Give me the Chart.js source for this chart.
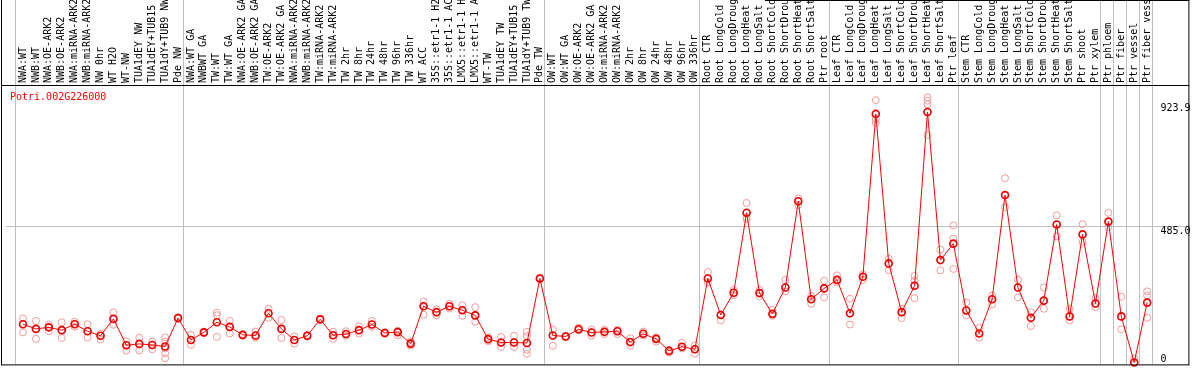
<!DOCTYPE html>
<html>
<head>
<meta charset="utf-8">
<script src="https://cdn.jsdelivr.net/npm/chart.js@4/dist/chart.umd.min.js"></script>
<style>
  html, body { margin: 0; padding: 0; background: #fff; }
  canvas { display: block; }
</style>
</head>
<body>
<canvas id="expr" width="1194" height="370"></canvas>
<script>
const geneName = "Potri.002G226000";

const labels = [
  "NWA:WT", "NWB:WT", "NWA:OE-ARK2", "NWB:OE-ARK2", "NWA:miRNA-ARK2", "NWB:miRNA-ARK2",
  "NW 0hr", "WT H2O", "WT-NW", "TUA1dEY NW", "TUA1dEY+TUB15", "TUA1dY+TUB9 NW", "Pde NW",
  "NWA:WT GA", "NWBWT GA", "TW:WT", "TW:WT GA", "NWA:OE-ARK2 GA", "NWB:OE-ARK2 GA",
  "TW:OE-ARK2", "TW:OE-ARK2 GA", "NWA:miRNA-ARK2", "NWB:miRNA-ARK2", "TW:miRNA-ARK2",
  "TW:miRNA-ARK2", "TW 2hr", "TW 8hr", "TW 24hr", "TW 48hr", "TW 96hr", "TW 336hr",
  "WT ACC", "35S::etr1-1 H2", "35S::etr1-1 AC", "LMX5::etr1-1 H", "LMX5::etr1-1 A",
  "WT-TW", "TUA1dEY TW", "TUA1dEY+TUB15", "TUA1dY+TUB9 TW", "Pde TW",
  "OW:WT", "OW:WT GA", "OW:OE-ARK2", "OW:OE-ARK2 GA", "OW:miRNA-ARK2", "OW:miRNA-ARK2",
  "OW 2hr", "OW 8hr", "OW 24hr", "OW 48hr", "OW 96hr", "OW 336hr",
  "Root CTR", "Root LongCold", "Root LongDroug", "Root LongHeat", "Root LongSalt",
  "Root ShortCold", "Root ShortDrou", "Root ShortHeat", "Root ShortSalt", "Ptr root",
  "Leaf CTR", "Leaf LongCold", "Leaf LongDroug", "Leaf LongHeat", "Leaf LongSalt",
  "Leaf ShortCold", "Leaf ShortDrou", "Leaf ShortHeat", "Leaf ShortSalt", "Ptr leaf",
  "Stem CTR", "Stem LongCold", "Stem LongDroug", "Stem LongHeat", "Stem LongSalt",
  "Stem ShortCold", "Stem ShortDrou", "Stem ShortHeat", "Stem ShortSalt", "Ptr shoot",
  "Ptr xylem", "Ptr phloem", "Ptr fiber", "Ptr vessel", "Ptr fiber vess"
];

// mean expression per sample
const means = [
  136, 119.5, 125, 115, 136, 111, 95, 155, 61, 66, 62, 57, 158,
  80, 107, 143, 126.5, 98, 96, 175, 119.5, 80, 95, 153.5, 97, 101, 115, 135, 105, 108, 67,
  200, 179, 200, 186, 167.5, 83, 71, 71, 69, 299,
  96, 92.5, 118, 106.5, 109, 111, 72.5, 102, 84, 41, 56, 47,
  299, 169, 248, 533, 247, 173, 267, 574, 225, 263.6,
  294, 175, 305, 885, 352.6, 179, 273, 892, 364.5, 423,
  185, 103, 225, 596, 267, 159, 220, 491, 164, 456, 210,
  501.5, 164, 0, 213
];

// individual replicates per sample
const replicates = [
  [157, 136, 107], [148, 120, 84], [135, 126, 111], [143, 115, 87], [145, 136, 127],
  [136, 111, 89], [103, 95, 82], [178, 155, 134], [75, 61, 42], [88, 66, 43],
  [74, 62, 47], [89, 74, 50, 33, 15], [161, 158, 155],
  [98, 80, 63], [110, 107, 104], [177, 168, 91], [148, 127, 103], [101, 98, 95],
  [110, 96, 89], [191, 175, 159], [151, 120, 87], [93, 80, 67], [98, 95, 92],
  [156, 154, 151], [109, 97, 84], [111, 101, 95], [129, 115, 103], [148, 135, 127],
  [108, 105, 102], [113, 108, 97], [74, 67, 60], [217, 200, 170], [189, 179, 168],
  [209, 200, 192], [204, 186, 166], [197, 168, 145], [90, 83, 76], [91, 71, 55],
  [95, 71, 55], [109, 94, 69, 45, 31], [302, 299, 296],
  [117, 96, 59], [95, 93, 90], [124, 118, 114], [117, 107, 95], [117, 109, 101],
  [116, 111, 101], [86, 73, 59], [110, 102, 96], [89, 84, 74], [45, 41, 35],
  [70, 56, 50], [61, 47, 31],
  [322, 299, 285], [171, 169, 150], [258, 248, 240], [568, 533, 517, 510], [258, 247, 236],
  [187, 173, 166], [294, 267, 253], [584, 574, 560], [236, 225, 209], [291, 264, 232],
  [310, 294, 285], [227, 175, 135], [314, 305, 294], [934, 885, 867, 853], [369, 353, 328],
  [191, 179, 158], [308, 291, 273, 229], [944, 932, 920, 892, 810], [402, 365, 328], [488, 441, 423, 333],
  [214, 185, 168], [123, 103, 88], [238, 225, 207], [656, 596, 552], [294, 267, 232],
  [179, 159, 130], [267, 220, 191], [524, 491, 449], [191, 164, 150], [492, 456, 429],
  [230, 210, 197], [533, 502, 482], [234, 164, 118], [15, 0, 0], [253, 238, 213, 159]
];

const yTicks = [0, 485.0, 923.9];
// first sample of each block (last entry closes the final block)
const groupStarts = [0, 13, 41, 53, 63, 73, 84, 85, 86, 87, 88];

const FONT = "DejaVu Sans Mono";
const STEP = 13;

const repPoints = [];
replicates.forEach((reps, i) => reps.forEach(v => repPoints.push({ x: i, y: v })));
const meanPoints = means.map((v, i) => ({ x: i, y: v }));

const framePlugin = {
  id: "frame",
  beforeDatasetsDraw(chart) {
    const { ctx, chartArea, scales: { x } } = chart;
    ctx.save();
    ctx.strokeStyle = "#c0c0c0";
    ctx.lineWidth = 1;
    groupStarts.forEach(g => {
      const px = Math.round(x.getPixelForValue(g - 8.5 / STEP)) + 0.5;
      ctx.beginPath();
      ctx.moveTo(px, 0);
      ctx.lineTo(px, chartArea.bottom);
      ctx.stroke();
    });
    ctx.restore();
  },
  afterDraw(chart) {
    const { ctx, chartArea, scales: { y } } = chart;
    ctx.save();
    ctx.strokeStyle = "#000";
    ctx.lineWidth = 1;
    ctx.beginPath();
    ctx.moveTo(1.5, 0); ctx.lineTo(1.5, chartArea.bottom + 0.5);
    ctx.moveTo(chartArea.right + 0.5, 0); ctx.lineTo(chartArea.right + 0.5, chartArea.bottom + 0.5);
    ctx.moveTo(1, chartArea.top + 0.5); ctx.lineTo(chartArea.right + 1, chartArea.top + 0.5);
    ctx.moveTo(1, chartArea.bottom + 0.5); ctx.lineTo(chartArea.right + 1, chartArea.bottom + 0.5);
    ctx.moveTo(765, 0.5); ctx.lineTo(chartArea.right + 1, 0.5);
    ctx.stroke();

    // value labels on the right, inside the plot
    ctx.font = "10px '" + FONT + "'";
    ctx.fillStyle = "#000";
    ctx.textAlign = "left";
    ctx.textBaseline = "alphabetic";
    yTicks.forEach(v => {
      const py = y.getPixelForValue(v);
      const base = v === 0 ? py : py + 8;
      ctx.fillText(v === 0 ? "0" : v.toFixed(1), chartArea.right - 28, base);
    });

    ctx.fillStyle = "#ff0000";
    ctx.fillText(geneName, 10, chartArea.top + 15);
    ctx.restore();
  }
};

new Chart(document.getElementById("expr"), {
  type: "line",
  data: {
    datasets: [
      {
        label: "mean",
        data: meanPoints,
        borderColor: "#ff0000",
        borderWidth: 1,
        pointRadius: 3.5,
        pointBorderWidth: 1.6,
        pointBorderColor: "#ee0000",
        pointBackgroundColor: "rgba(0,0,0,0)",
        tension: 0,
        clip: false
      },
      {
        label: "replicates",
        data: repPoints,
        showLine: false,
        pointRadius: 3.5,
        pointBorderWidth: 1,
        pointBorderColor: "#f19a9a",
        pointBackgroundColor: "rgba(0,0,0,0)",
        clip: false
      }
    ]
  },
  options: {
    responsive: false,
    animation: false,
    devicePixelRatio: 1,
    layout: { padding: { left: 2, right: 2, top: 0, bottom: 2 } },
    plugins: { legend: { display: false }, tooltip: { enabled: false } },
    scales: {
      x: {
        type: "linear",
        position: "top",
        min: -17.5 / STEP,
        max: -17.5 / STEP + 1190 / STEP,
        afterBuildTicks: s => { s.ticks = labels.map((_, i) => ({ value: i })); },
        afterFit: s => { s.height = 85; },
        grid: { display: false, drawTicks: false },
        border: { display: false },
        ticks: {
          autoSkip: false,
          minRotation: 90,
          maxRotation: 90,
          padding: 2,
          labelOffset: 12,
          color: "#000",
          font: { family: FONT, size: 10 },
          callback: v => labels[v]
        }
      },
      y: {
        position: "right",
        min: -7,
        max: 988,
        afterBuildTicks: s => { s.ticks = yTicks.map(v => ({ value: v })); },
        afterFit: s => { s.width = 0; },
        ticks: { display: false },
        grid: {
          drawTicks: false,
          color: c => (c.tick && c.tick.value === 485 ? "#c0c0c0" : "rgba(0,0,0,0)")
        },
        border: { display: false }
      }
    }
  },
  plugins: [framePlugin]
});
</script>
</body>
</html>
